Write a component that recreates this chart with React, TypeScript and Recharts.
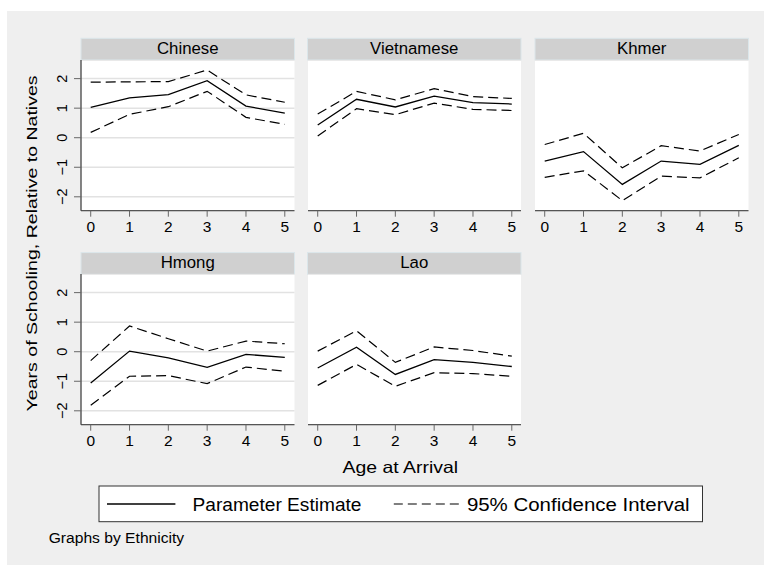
import React from "react";
import { LineChart, Line, XAxis, YAxis, CartesianGrid } from "recharts";

const FONT = "'Liberation Sans', Arial, Helvetica, sans-serif";

const ages = [0, 1, 2, 3, 4, 5];
const yTicks = [-2, -1, 0, 1, 2];

const chineseEst = [1.03, 1.35, 1.46, 1.93, 1.07, 0.83];
const chineseHi = [1.88, 1.89, 1.9, 2.29, 1.45, 1.2];
const chineseLo = [0.18, 0.79, 1.05, 1.57, 0.69, 0.45];

const vietEst = [0.43, 1.3, 1.04, 1.41, 1.19, 1.14];
const vietHi = [0.8, 1.57, 1.28, 1.66, 1.39, 1.33];
const vietLo = [0.06, 0.98, 0.78, 1.17, 0.96, 0.92];

const khmerEst = [-0.79, -0.47, -1.58, -0.79, -0.9, -0.26];
const khmerHi = [-0.23, 0.15, -1.02, -0.27, -0.45, 0.11];
const khmerLo = [-1.34, -1.12, -2.13, -1.3, -1.36, -0.68];

const hmongEst = [-1.06, 0.02, -0.21, -0.53, -0.09, -0.19];
const hmongHi = [-0.3, 0.87, 0.44, 0.02, 0.36, 0.27];
const hmongLo = [-1.81, -0.83, -0.81, -1.08, -0.52, -0.66];

const laoEst = [-0.55, 0.15, -0.77, -0.27, -0.36, -0.5];
const laoHi = [0.02, 0.71, -0.36, 0.16, 0.04, -0.15];
const laoLo = [-1.14, -0.43, -1.17, -0.71, -0.74, -0.83];

const panelTitles = ["Chinese", "Vietnamese", "Khmer", "Hmong", "Lao"];

const yTitle = "Years of Schooling, Relative to Natives";
const xTitle = "Age at Arrival";
const legendEst = "Parameter Estimate";
const legendCI = "95% Confidence Interval";
const note = "Graphs by Ethnicity";

// layout
const COLS = [81, 307.5, 535];
const ROWS = [60, 274.3];
const PW = 213.5;
const PH = 150.7;
const HH = 21.7;
const XH = 32;
const YW = 30;

const XTick = (props: any) => {
  const { x, y, payload } = props;
  return (
    <text x={x} y={y + 12.9} textAnchor="middle" fontSize={15.5} fontFamily={FONT} fill="#000">
      {payload.value}
    </text>
  );
};

const YTick = (props: any) => {
  const { x, y, payload } = props;
  const bx = x - 4.6;
  const v = payload.value;
  const label = v < 0 ? "\u2212" + Math.abs(v) : String(v);
  return (
    <text
      x={bx}
      y={y}
      transform={`rotate(-90 ${bx} ${y})`}
      textAnchor="middle"
      fontSize={14.5}
      fontFamily={FONT}
      fill="#000"
    >
      {label}
    </text>
  );
};

function Panel({ left, top, est, hi, lo, showY }: any) {
  const yw = showY ? YW : 0;
  const data = ages.map((a, i) => ({ age: a, est: est[i], hi: hi[i], lo: lo[i] }));
  return (
    <div style={{ position: "absolute", left: left - yw, top }}>
      <LineChart width={PW + yw} height={PH + XH} data={data} margin={{ top: 0, right: 0, bottom: 0, left: 0 }}>
        <CartesianGrid vertical={false} stroke="#e2e2e2" strokeWidth={1.5} fill="#ffffff" />
        <XAxis
          dataKey="age"
          type="number"
          domain={[-0.25, 5.25]}
          allowDataOverflow
          ticks={ages}
          height={XH}
          tickSize={6}
          tickMargin={2}
          axisLine={{ stroke: "#555", strokeWidth: 1.3 }}
          tickLine={{ stroke: "#666" }}
          tick={<XTick />}
          interval={0}
        />
        {showY ? (
          <YAxis
            type="number"
            domain={[-2.47, 2.63]}
            allowDataOverflow
            ticks={yTicks}
            width={yw}
            tickSize={7}
            tickMargin={2}
            axisLine={{ stroke: "#444", strokeWidth: 1.3 }}
            tickLine={{ stroke: "#666" }}
            tick={<YTick />}
            interval={0}
          />
        ) : (
          <YAxis
            type="number"
            domain={[-2.47, 2.63]}
            allowDataOverflow
            ticks={yTicks}
            width={0}
            axisLine={false}
            tickLine={false}
            tick={false}
            interval={0}
          />
        )}
        <Line dataKey="hi" type="linear" stroke="#000" strokeWidth={1.2} strokeDasharray="10 5" dot={false} isAnimationActive={false} />
        <Line dataKey="lo" type="linear" stroke="#000" strokeWidth={1.2} strokeDasharray="10 5" dot={false} isAnimationActive={false} />
        <Line dataKey="est" type="linear" stroke="#000" strokeWidth={1.3} dot={false} isAnimationActive={false} />
      </LineChart>
    </div>
  );
}

const panels = [
  { col: 0, row: 0, est: chineseEst, hi: chineseHi, lo: chineseLo },
  { col: 1, row: 0, est: vietEst, hi: vietHi, lo: vietLo },
  { col: 2, row: 0, est: khmerEst, hi: khmerHi, lo: khmerLo },
  { col: 0, row: 1, est: hmongEst, hi: hmongHi, lo: hmongLo },
  { col: 1, row: 1, est: laoEst, hi: laoHi, lo: laoLo },
];

export default function App() {
  return (
    <div style={{ position: "absolute", left: 0, top: 0, width: 764, height: 565, background: "#fff", overflow: "hidden" }}>
      <svg width={764} height={565} style={{ position: "absolute", left: 0, top: 0 }}>
        <rect x={7} y={11} width={757} height={554} fill="#efefef" />
        {panels.map((p, i) => {
          const x = COLS[p.col];
          const y = ROWS[p.row] - HH;
          return (
            <g key={i}>
              <rect x={x} y={y} width={PW} height={HH} fill="#d0d0d0" stroke="#dbe6ea" strokeWidth={1} />
              <text x={x + PW / 2} y={y + 15.4} textAnchor="middle" fontSize={16.8} fontFamily={FONT} fill="#000">
                {panelTitles[i]}
              </text>
            </g>
          );
        })}
        <text
          x={37}
          y={243.4}
          transform="rotate(-90 37 243.4)"
          textAnchor="middle"
          fontSize={15.5}
          fontFamily={FONT}
          fill="#000"
          textLength={336}
          lengthAdjust="spacingAndGlyphs"
        >
          {yTitle}
        </text>
        <text x={400.3} y={472.5} textAnchor="middle" fontSize={16.5} fontFamily={FONT} fill="#000" textLength={115.5} lengthAdjust="spacingAndGlyphs">
          {xTitle}
        </text>
        <rect x={99} y={486} width={603.5} height={35.7} fill="#fff" stroke="#333" strokeWidth={1} />
        <line x1={107} y1={504} x2={175.4} y2={504} stroke="#000" strokeWidth={1.3} />
        <text x={192.5} y={510.8} fontSize={17.5} fontFamily={FONT} fill="#000" textLength={169} lengthAdjust="spacingAndGlyphs">
          {legendEst}
        </text>
        <line x1={393.8} y1={504} x2={460.5} y2={504} stroke="#000" strokeWidth={1.2} strokeDasharray="9 5" />
        <text x={466.9} y={510.8} fontSize={17.5} fontFamily={FONT} fill="#000" textLength={222.7} lengthAdjust="spacingAndGlyphs">
          {legendCI}
        </text>
        <text x={48.7} y={543.3} fontSize={14} fontFamily={FONT} fill="#000" textLength={135.5} lengthAdjust="spacingAndGlyphs">
          {note}
        </text>
      </svg>
      {panels.map((p, i) => (
        <Panel key={i} left={COLS[p.col]} top={ROWS[p.row]} est={p.est} hi={p.hi} lo={p.lo} showY={p.col === 0} />
      ))}
    </div>
  );
}
